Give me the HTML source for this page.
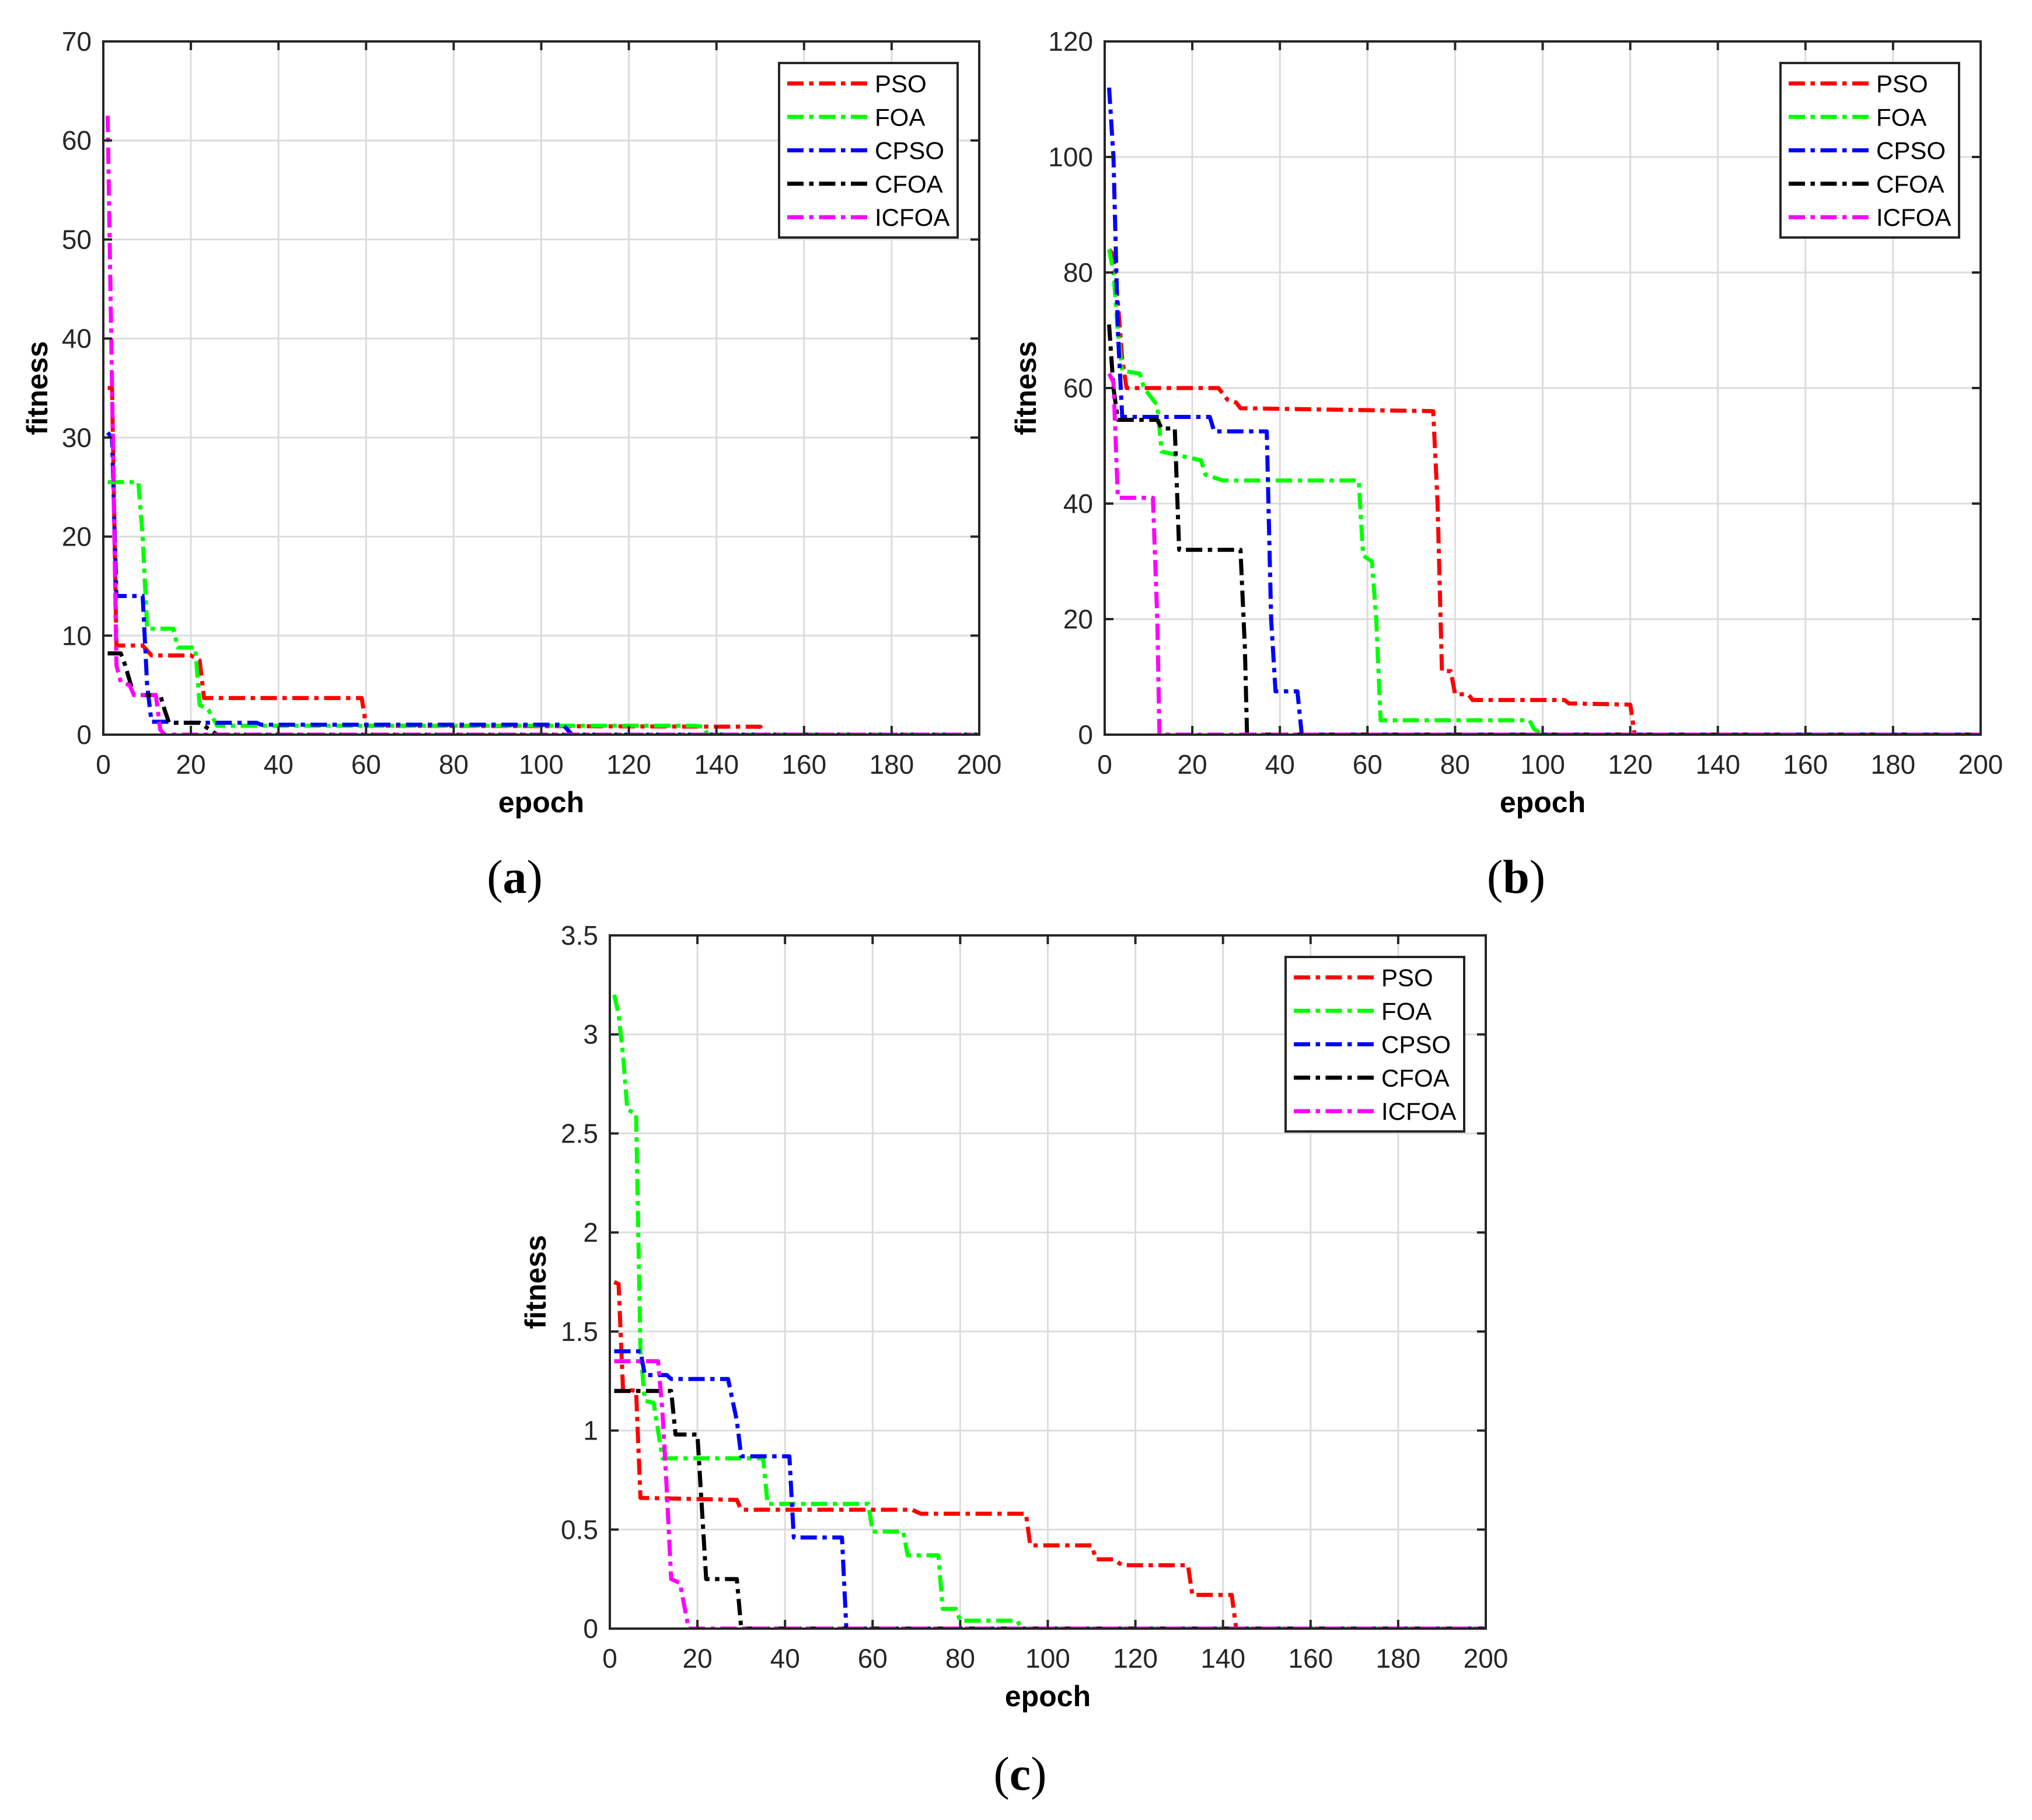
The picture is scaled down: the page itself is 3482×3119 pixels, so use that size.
<!DOCTYPE html>
<html><head><meta charset="utf-8"><style>
html,body{margin:0;padding:0;background:#fff;}
svg{display:block;}
</style></head><body>
<svg id="fig" width="3482" height="3119" viewBox="0 0 3482 3119" xmlns="http://www.w3.org/2000/svg" font-family="Liberation Sans, sans-serif"></svg>
<script>
// ---- data ----
const seriesNames = ["PSO","FOA","CPSO","CFOA","ICFOA"];
const seriesColors = ["#ff0000","#00ff00","#0000ff","#000000","#ff00ff"];
const xTicks = [0,20,40,60,80,100,120,140,160,180,200];
const yTicksA = [0,10,20,30,40,50,60,70];
const yTicksB = [0,20,40,60,80,100,120];
const yTicksC = [0,0.5,1,1.5,2,2.5,3,3.5];

// panel a
const aPSOx=[1,2,3,9,11,20,22,23,59,60,150,151,200];
const aPSOy=[35,35,9,9,8,8,7.5,3.7,3.7,0.9,0.8,0,0];
const aFOAx=[1,2,8,9,10,16,17,21,22,24,26,135,137,138,200];
const aFOAy=[25.5,25.5,25.5,20,10.7,10.7,8.8,8.8,3,2.5,0.9,0.9,0.8,0,0];
const aCPSOx=[1,2,3,9,10,11,15,16,35,36,105,107,200];
const aCPSOy=[30.5,30,14,14,5,1.3,1.3,1.2,1.2,1.0,1.0,0,0];
const aCFOAx=[1,4,5,7,13,14,15,22,25,26,200];
const aCFOAy=[8.2,8.2,7,4,4,2.5,1.2,1.2,0.3,0,0];
const aICFOAx=[1,2,3,4,6,7,12,13,14,200];
const aICFOAy=[62.5,35,7,5.3,5,4,4,0.5,0,0];

// panel b
const bPSOx=[1,2,3,4,5,26,28,30,31,75,76,77,79,80,83,84,105,106,120,121,200];
const bPSOy=[84,83,75,65,60,60,58,57.5,56.5,56,40,11,11,7,7,6,6,5.4,5.2,0,0];
const bFOAx=[1,2,3,4,8,9,12,13,16,22,23,27,58,59,61,62,63,97,98,100,200];
const bFOAy=[84,80,70,63,62.5,60,57,49,48.5,47.5,45,44,44,31,30,20,2.5,2.5,1,0,0];
const bCPSOx=[1,2,3,4,24,25,37,38,39,44,45,200];
const bCPSOy=[112,100,70,55,55,52.5,52.5,20,7.5,7.5,0,0];
const bCFOAx=[1,2,3,12,13,16,17,31,32,32.5,200];
const bCFOAy=[71,60,54.5,54.5,53,53,32,32,15,0,0];
const bICFOAx=[1,2,3,11,12,12.5,200];
const bICFOAy=[62.5,61,41,41,20,0,0];

// panel c
const cPSOx=[1,2,3,6,7,29,30,69,71,95,96,110,111,115,117,132,133,142,143,200];
const cPSOy=[1.75,1.74,1.21,1.2,0.66,0.65,0.6,0.6,0.58,0.58,0.42,0.42,0.35,0.35,0.32,0.32,0.17,0.17,0,0];
const cFOAx=[1,2,3,4,6,7,8,10,11,12,35,36,59,60,67,68,75,76,79,80,93,94,200];
const cFOAy=[3.2,3.1,2.9,2.62,2.6,1.4,1.15,1.14,1.0,0.86,0.86,0.63,0.63,0.49,0.49,0.37,0.37,0.1,0.1,0.04,0.04,0,0];
const cCPSOx=[1,7,8,13,14,27,29,30,41,42,53,54,200];
const cCPSOy=[1.4,1.4,1.28,1.28,1.26,1.26,1.05,0.87,0.87,0.46,0.46,0,0];
const cCFOAx=[1,14,15,20,22,29,30,200];
const cCFOAy=[1.2,1.2,0.98,0.98,0.25,0.25,0,0];
const cICFOAx=[1,11,12,13,14,16,18,200];
const cICFOAy=[1.35,1.35,1.1,0.7,0.25,0.23,0,0];

const NS="http://www.w3.org/2000/svg";
const svg=document.getElementById('fig');
function mk(tag,attrs,parent){const e=document.createElementNS(NS,tag);for(const k in attrs)e.setAttribute(k,attrs[k]);(parent||svg).appendChild(e);return e;}

function panel(id,L,T,W,H,yTicks,yMax,series,fitX,capX,capY,capLetter){
  const g=mk('g',{});
  
  
  const xs=v=>L+v/200*W, ys=v=>T+H-v/yMax*H;
  const cp=mk('clipPath',{id:'clip'+id},g);
  mk('rect',{x:L,y:T,width:W,height:H},cp);
  xTicks.forEach(t=>{if(t>0&&t<200){const l=mk('line',{x1:xs(t),x2:xs(t),y1:T,y2:T+H,stroke:'#dcdcdc','stroke-width':3},g);
    }});
  yTicks.forEach(t=>{if(t>0&&t<yMax){const l=mk('line',{x1:L,x2:L+W,y1:ys(t),y2:ys(t),stroke:'#dcdcdc','stroke-width':3},g);
    }});
  const sg=mk('g',{'clip-path':'url(#clip'+id+')'},g);
  series.forEach((s,i)=>{
    const pts=s[0].map((x,j)=>xs(x).toFixed(1)+','+ys(s[1][j]).toFixed(1)).join(' ');
    const p=mk('polyline',{points:pts,fill:'none',stroke:seriesColors[i],'stroke-width':7,'stroke-dasharray':'28 9.5 7.5 9.5','stroke-linejoin':'round'},sg);
    
    
  });
  xTicks.forEach(t=>{
    mk('line',{x1:xs(t),x2:xs(t),y1:T+H,y2:T+H-15,stroke:'#262626','stroke-width':4},g);
    mk('line',{x1:xs(t),x2:xs(t),y1:T,y2:T+15,stroke:'#262626','stroke-width':4},g);
    const tx=mk('text',{x:xs(t),y:T+H+67,'text-anchor':'middle','font-size':46,fill:'#262626'},g);
    tx.textContent=t;
    
  });
  yTicks.forEach(t=>{
    mk('line',{x1:L,x2:L+15,y1:ys(t),y2:ys(t),stroke:'#262626','stroke-width':4},g);
    mk('line',{x1:L+W,x2:L+W-15,y1:ys(t),y2:ys(t),stroke:'#262626','stroke-width':4},g);
    const tx=mk('text',{x:L-20,y:ys(t)+16,'text-anchor':'end','font-size':46,fill:'#262626'},g);
    tx.textContent=t;
    
  });
  const box=mk('rect',{x:L,y:T,width:W,height:H,fill:'none',stroke:'#262626','stroke-width':4},g);
  
  const xl=mk('text',{x:L+W/2,y:T+H+133,'text-anchor':'middle','font-size':50,'font-weight':'bold',fill:'#000'},g);
  xl.textContent='epoch';
  
  const yl=mk('text',{x:0,y:0,'text-anchor':'middle','font-size':50,'font-weight':'bold',fill:'#000',transform:'translate('+(fitX+17)+','+(T+H/2)+') rotate(-90)'},g);
  yl.textContent='fitness';
  
  const lx=L+W-37-306, ly=T+37;
  const lg=mk('g',{},g);
  
  mk('rect',{x:lx,y:ly,width:306,height:299,fill:'#fff',stroke:'#262626','stroke-width':4},lg);
  seriesNames.forEach((n,i)=>{
    const yy=ly+35+i*57.3;
    const ln=mk('line',{x1:lx+14,x2:lx+153,y1:yy,y2:yy,stroke:seriesColors[i],'stroke-width':7,'stroke-dasharray':'28 9.5 7.5 9.5'},lg);
    
    const t=mk('text',{x:lx+164,y:yy+15,'font-size':42,fill:'#000'},lg);
    t.textContent=n;
    
  });
  const c=mk('text',{x:capX,y:capY,'text-anchor':'middle','font-size':82,'font-family':'Liberation Serif, serif',fill:'#000'},g);
  
  const t1=mk('tspan',{},c); t1.textContent='(';
  const t2=mk('tspan',{'font-weight':'bold'},c); t2.textContent=capLetter;
  const t3=mk('tspan',{},c); t3.textContent=')';
}

panel('a',177,71,1501,1188,yTicksA,70,[[aPSOx,aPSOy],[aFOAx,aFOAy],[aCPSOx,aCPSOy],[aCFOAx,aCFOAy],[aICFOAx,aICFOAy]],64,882,1530,'a');
panel('b',1893,71,1501,1188,yTicksB,120,[[bPSOx,bPSOy],[bFOAx,bFOAy],[bCPSOx,bCPSOy],[bCFOAx,bCFOAy],[bICFOAx,bICFOAy]],1758,2598,1530,'b');
panel('c',1045,1603,1501,1188,yTicksC,3.5,[[cPSOx,cPSOy],[cFOAx,cFOAy],[cCPSOx,cCPSOy],[cCFOAx,cCFOAy],[cICFOAx,cICFOAy]],918,1748,3067,'c');
</script>
</body></html>
